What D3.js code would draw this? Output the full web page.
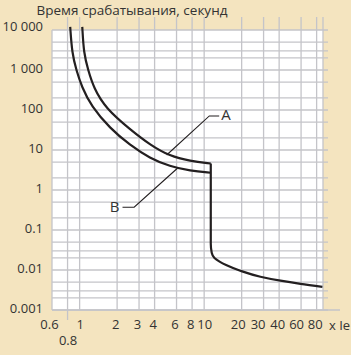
<!DOCTYPE html>
<html>
<head>
<meta charset="utf-8">
<script src="https://cdn.jsdelivr.net/npm/d3@7"></script>
<style>
  html, body { margin: 0; padding: 0; background: #f4e4bf; }
  svg { display: block; font-family: "Open Sans", sans-serif; }
</style>
</head>
<body>
<div id="chart"></div>
<script>
// data
const xTickValues = [0.6, 0.8, 1, 2, 3, 4, 6, 8, 10, 20, 30, 40, 60, 80];
const xGridValues = [0.8, 1, 2, 3, 4, 6, 8, 10, 20, 30, 40, 60, 80, 90];
const yTickValues = [0.001, 0.01, 0.1, 1, 10, 100, 1000, 10000];
const yTickLabels = ['0.001', '0.01', '0.1', '1', '10', '100', '1 000', '10 000'];
const yMinorValues = [5000, 3000, 2000, 500, 200, 50, 20, 5, 2, 0.5, 0.2, 0.05, 0.03, 0.02, 0.005, 0.003, 0.002];

// curve A (upper), curve B (lower): [multiple of Ie, seconds]
const curveA = [[1.05, 12000], [1.08, 2600], [1.17, 1000], [1.3, 350], [1.62, 110], [2.53, 33], [3.67, 13.5], [5.3, 7.0], [7.7, 5.3], [11.3, 4.6]];
const curveB = [[0.84, 12000], [0.87, 2600], [0.94, 1000], [1.04, 380], [1.24, 125], [1.75, 35], [2.53, 13.3], [3.67, 6.2], [5.3, 3.9], [7.7, 3.0], [11.3, 2.7]];
// instantaneous part: drop and tail
const curveTail = [[11.3, 4.6], [11.3, 0.1], [11.3, 0.045], [11.5, 0.027], [12.1, 0.02], [13.3, 0.0162], [15, 0.0133], [19.5, 0.0096], [28.3, 0.0068], [41, 0.0054], [59.4, 0.0045], [89, 0.0038]];

// leader lines: curve point, elbow, end of the short horizontal
const leaderA = [[5.0, 7.5], [11.0, 71], [13.2, 71]];
const leaderB = [[6.1, 3.5], [2.74, 0.37], [2.21, 0.37]];

const W = 351, H = 355;
const margin = { top: 30, right: 28, bottom: 45, left: 52 };

const svg = d3.select('#chart')
    .append('svg')
    .attr('width', W)
    .attr('height', H);

const x = d3.scaleLog().domain([0.6, 90]).range([margin.left, W - margin.right]);
const y = d3.scaleLog().domain([0.001, 10000]).range([H - margin.bottom, margin.top]);

const x0 = x.range()[0], x1 = x.range()[1];
const yTop = y.range()[1], yBot = y.range()[0];

// title
svg.append('text')
    .attr('x', 132)
    .attr('y', 14.5)
    .attr('text-anchor', 'middle')
    .attr('font-size', 13.5)
    .attr('fill', '#333')
    .text('Время срабатывания, секунд');

// plot background
svg.append('rect')
    .attr('x', x0)
    .attr('y', yTop)
    .attr('width', x1 - x0)
    .attr('height', yBot - yTop)
    .attr('fill', '#fff');

const gridColor = '#c4c4c9';

// horizontal grid
svg.append('g')
    .selectAll('line')
    .data(yTickValues.concat(yMinorValues))
    .enter()
    .append('line')
    .attr('x1', x0)
    .attr('x2', x1 + 5)
    .attr('y1', (d) => y(d))
    .attr('y2', (d) => y(d))
    .attr('stroke', gridColor)
    .attr('stroke-width', 1.3);

// vertical grid (ticks poke above the box)
svg.append('g')
    .selectAll('line')
    .data(xGridValues)
    .enter()
    .append('line')
    .attr('x1', (d) => x(d))
    .attr('x2', (d) => x(d))
    .attr('y1', yTop - 13)
    .attr('y2', (d) => (d === 0.8 ? yBot + 10 : yBot))
    .attr('stroke', gridColor)
    .attr('stroke-width', 1.3);

// left edge and base line
svg.append('line')
    .attr('x1', x0).attr('x2', x0)
    .attr('y1', yTop).attr('y2', yBot)
    .attr('stroke', gridColor).attr('stroke-width', 1.3);
svg.append('line')
    .attr('x1', x0).attr('x2', x1 + 17)
    .attr('y1', yBot).attr('y2', yBot)
    .attr('stroke', gridColor).attr('stroke-width', 1.3);

// x axis labels (small nudges so the crowded right end reads like the original)
const xNudge = { 0.6: -3, 2: -2, 3: -2, 4: -2, 6: -2, 8: -2, 20: -4, 30: -6, 40: -2, 60: -5, 80: -2 };
const xAxis = svg.append('g')
    .attr('transform', `translate(0,${yBot})`)
    .call(d3.axisBottom(x).tickValues(xTickValues).tickFormat((d) => String(d)).tickSize(0).tickPadding(10));
xAxis.select('.domain').remove();
xAxis.selectAll('text')
    .attr('font-size', 13)
    .attr('font-family', '"Open Sans", sans-serif')
    .attr('fill', '#333')
    .attr('dy', (d) => (d === 0.8 ? '1.95em' : '0.71em'))
    .attr('dx', (d) => xNudge[d] || 0);

svg.append('text')
    .attr('x', x1 + 6)
    .attr('y', yBot + 20)
    .attr('font-size', 13)
    .attr('fill', '#333')
    .text('x Ie');

// y axis labels
const yAxis = svg.append('g')
    .attr('transform', `translate(${x0},0)`)
    .call(d3.axisLeft(y).tickValues(yTickValues).tickFormat((d, i) => yTickLabels[i]).tickSize(0).tickPadding(9));
yAxis.select('.domain').remove();
yAxis.selectAll('text')
    .attr('font-size', 13)
    .attr('font-family', '"Open Sans", sans-serif')
    .attr('fill', '#333')
    .attr('dy', (d) => (d === 10000 ? '0em' : '0.2em'));

// curves
const smooth = d3.line().x((d) => x(d[0])).y((d) => y(d[1])).curve(d3.curveBasis);
const lineY = d3.line().x((d) => x(d[0])).y((d) => y(d[1])).curve(d3.curveMonotoneY);
const lineStraight = d3.line().x((d) => x(d[0])).y((d) => y(d[1]));

[curveA, curveB].forEach((c) => {
    svg.append('path')
        .attr('d', smooth(c))
        .attr('fill', 'none')
        .attr('stroke', '#231f20')
        .attr('stroke-width', 2.2);
});
svg.append('path')
    .attr('d', lineY(curveTail))
    .attr('fill', 'none')
    .attr('stroke', '#231f20')
    .attr('stroke-width', 2.2)
    .attr('stroke-linejoin', 'miter');

// leaders + labels
[[leaderA, 'A', 'start', 2], [leaderB, 'B', 'end', -3]].forEach(([pts, label, anchor, off]) => {
    svg.append('path')
        .attr('d', lineStraight(pts))
        .attr('fill', 'none')
        .attr('stroke', '#231f20')
        .attr('stroke-width', 1.1);
    const last = pts[pts.length - 1];
    svg.append('text')
        .attr('x', x(last[0]) + off)
        .attr('y', y(last[1]))
        .attr('dy', '0.3em')
        .attr('text-anchor', anchor)
        .attr('font-size', 15)
        .attr('fill', '#333')
        .text(label);
});
</script>
</body>
</html>
